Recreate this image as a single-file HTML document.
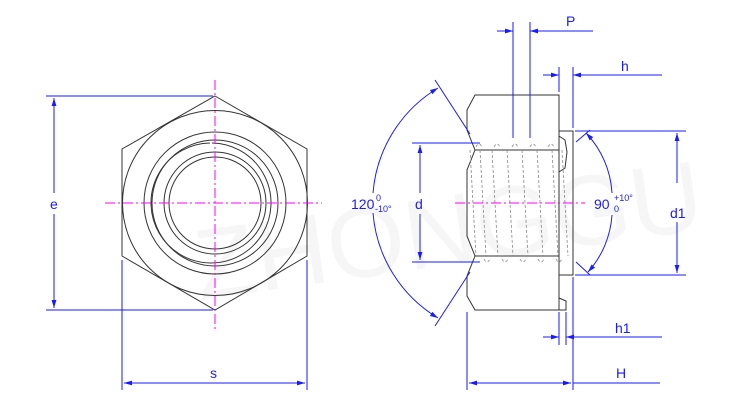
<!DOCTYPE html>
<html><head><style>html,body{margin:0;padding:0;background:#fff}svg{display:block}text{font-family:"Liberation Sans",sans-serif;fill:#1a1aff}</style></head><body>
<svg width="735" height="420" viewBox="0 0 735 420" xmlns="http://www.w3.org/2000/svg">
<defs>
<marker id="a" viewBox="0 0 10 6" refX="10" refY="3" markerWidth="8" markerHeight="5" orient="auto-start-reverse"><path d="M0,0L10,3L0,6z" fill="#1a1aff"/></marker>
</defs>
<text x="200" y="300" style="font-size:100px;fill:#f6f6f6" transform="rotate(-8 200 300)">ZHONGGU</text>
<g fill="none" stroke="#333" stroke-width="1">
<polygon points="215,96 307,149 307,256 215,310 122,256 122,149"/>
<circle cx="215" cy="203" r="92.5"/>
<circle cx="215" cy="203" r="71"/>
<circle cx="215" cy="203" r="63"/>
<path d="M212,143 A60,60 0 1 1 210,143" />
<circle cx="215" cy="203" r="51"/>
<circle cx="215" cy="203" r="46"/>
</g>
<g stroke="#f0f" stroke-width="1" stroke-dasharray="10,3,2,3">
<line x1="215" y1="80" x2="215" y2="330"/>
<line x1="105" y1="203" x2="322" y2="203"/>
</g>
<g stroke="#1a1aff" stroke-width="1" fill="none">
<line x1="46" y1="96" x2="213" y2="96"/><line x1="46" y1="310" x2="213" y2="310"/>
<line x1="54" y1="98" x2="54" y2="193" marker-start="url(#a)"/><line x1="54" y1="214" x2="54" y2="308" marker-end="url(#a)"/>
<line x1="122" y1="260" x2="122" y2="390"/><line x1="307" y1="260" x2="307" y2="390"/>
<line x1="124" y1="383" x2="305" y2="383" marker-start="url(#a)" marker-end="url(#a)"/>
</g>
<text x="50" y="209" font-size="14">e</text>
<text x="210" y="378" font-size="14">s</text>
<g fill="none" stroke="#333" stroke-width="1">
<path d="M475,95 L559,95 L559,310 L475,310 L467,296 L467,276 L475,256 L467,236 L467,170 L475,150 L467,130 L467,110 Z"/>
<line x1="475" y1="150" x2="559" y2="150"/><line x1="475" y1="256" x2="559" y2="256"/>
<rect x="559" y="131" width="14" height="144"/>
<path d="M559,136 L565,140 L567,152 L565,168 L559,172"/>
<path d="M559,298 L566,301 L566,310 L559,310"/>
</g>
<g stroke="#888" stroke-width="0.8" fill="none" stroke-dasharray="3,2">
<path d="M480,150 L486,256 M492,150 L498,256 M507,150 L513,256 M522,150 L528,256 M537,150 L543,256 M552,150 L558,256 M562,150 L568,256 M470,150 L476,256"/>
<path d="M476,147 q3,-6 6,0 M494,147 q3,-6 6,0 M512,147 q3,-6 6,0 M530,147 q3,-6 6,0 M548,147 q3,-6 6,0 M484,259 q3,6 6,0 M502,259 q3,6 6,0 M520,259 q3,6 6,0 M538,259 q3,6 6,0 M556,259 q3,6 6,0"/>
</g>
<line x1="455" y1="203" x2="585" y2="203" stroke="#f0f" stroke-dasharray="10,3,2,3"/>
<g stroke="#1a1aff" stroke-width="1" fill="none">
<line x1="513" y1="22" x2="513" y2="138"/><line x1="530" y1="22" x2="530" y2="138"/>
<line x1="497" y1="31" x2="513" y2="31" marker-end="url(#a)"/><line x1="593" y1="31" x2="530" y2="31" marker-end="url(#a)"/>
<line x1="559" y1="67" x2="559" y2="92"/><line x1="573" y1="67" x2="573" y2="128"/>
<line x1="543" y1="75" x2="559" y2="75" marker-end="url(#a)"/><line x1="662" y1="75" x2="573" y2="75" marker-end="url(#a)"/>
<line x1="575" y1="131" x2="686" y2="131"/><line x1="575" y1="275" x2="686" y2="275"/>
<line x1="677" y1="133" x2="677" y2="183" marker-start="url(#a)"/><line x1="677" y1="222" x2="677" y2="273" marker-end="url(#a)"/>
<line x1="412" y1="143" x2="480" y2="143"/><line x1="412" y1="262" x2="480" y2="262"/>
<line x1="420" y1="145" x2="420" y2="193" marker-start="url(#a)"/><line x1="420" y1="214" x2="420" y2="260" marker-end="url(#a)"/>
<line x1="559" y1="312" x2="559" y2="345"/><line x1="566" y1="312" x2="566" y2="345"/>
<line x1="543" y1="337" x2="559" y2="337" marker-end="url(#a)"/><line x1="662" y1="337" x2="566" y2="337" marker-end="url(#a)"/>
<line x1="467" y1="312" x2="467" y2="390"/><line x1="573" y1="277" x2="573" y2="390"/>
<line x1="469" y1="383" x2="571" y2="383" marker-start="url(#a)" marker-end="url(#a)"/><line x1="573" y1="383" x2="660" y2="383"/>
<line x1="435" y1="80" x2="470" y2="134"/><line x1="435" y1="326" x2="470" y2="272"/>
<path d="M438,88 A135,135 0 0 0 373,193" marker-start="url(#a)"/>
<path d="M373,213 A135,135 0 0 0 438,318" marker-end="url(#a)"/>
<line x1="576" y1="142" x2="590" y2="130"/><line x1="576" y1="262" x2="590" y2="275"/>
<path d="M586,133 A95,95 0 0 1 612,193" marker-start="url(#a)"/>
<path d="M612,215 A95,95 0 0 1 588,272" marker-end="url(#a)"/>
</g>
<text x="566" y="26" font-size="14">P</text>
<text x="621" y="71" font-size="14">h</text>
<text x="670" y="218" font-size="14">d1</text>
<text x="415" y="209" font-size="14">d</text>
<text x="615" y="333" font-size="14">h1</text>
<text x="616" y="378" font-size="14">H</text>
<text x="351" y="209" font-size="14">120</text>
<text x="376" y="201" font-size="9">0</text>
<text x="375" y="212" font-size="9">-10°</text>
<text x="594" y="209" font-size="14">90</text>
<text x="614" y="201" font-size="9">+10°</text>
<text x="614" y="212" font-size="9">0</text>
</svg>
</body></html>
